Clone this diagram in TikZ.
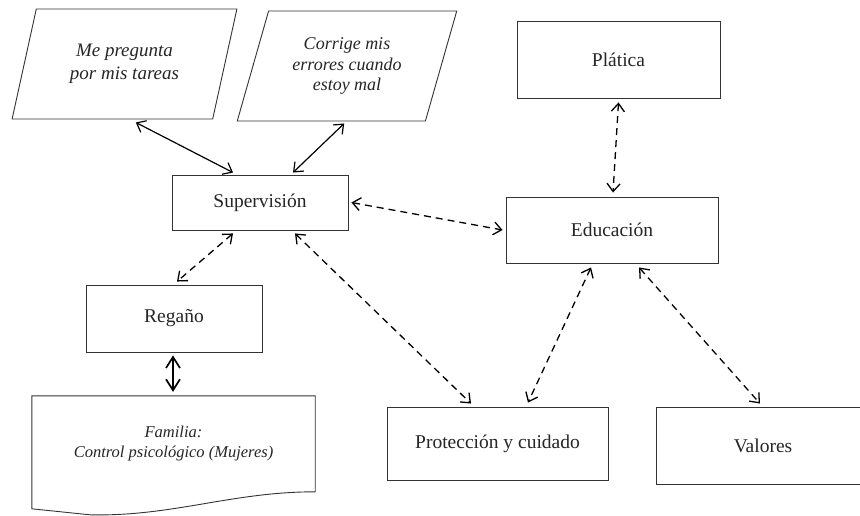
\documentclass[tikz,border=0pt]{standalone}
\usepackage{fontspec}
\IfFontExistsTF{LiberationSerif-Italic.ttf}{%
  \setmainfont{LiberationSerif}[Extension=.ttf,UprightFont=*-Regular,ItalicFont=*-Italic,BoldFont=*-Bold,BoldItalicFont=*-BoldItalic]}{%
  \setmainfont{Liberation Serif}}
\usetikzlibrary{arrows.meta,calc,shapes.geometric}
\begin{document}
\begin{tikzpicture}[x=1pt,y=-1pt,
  box/.style={draw=black!80,line width=0.9pt,rectangle,inner sep=0pt,text=black!85,font=\fontsize{19.5}{23}\selectfont},
  para/.style={draw=black!80,line width=0.9pt,trapezium,trapezium left angle=69,trapezium right angle=111,trapezium stretches=true,inner sep=0pt,align=center,text=black!85},
  sarrow/.style={line width=1.2pt,{Straight Barb[length=8pt,width=13pt]}-{Straight Barb[length=8pt,width=13pt]}},
  darrow/.style={line width=1.3pt,dash pattern=on 7pt off 5pt,{Straight Barb[length=8pt,width=13pt]}-{Straight Barb[length=8pt,width=13pt]}},
  thickarrow/.style={line width=1.7pt,{Straight Barb[length=11pt,width=14pt]}-{Straight Barb[length=11pt,width=14pt]}}
]
\useasboundingbox[fill=white] (0,0) rectangle (860,516);

\node[para,minimum width=225,minimum height=110,font=\fontsize{19}{22.5}\selectfont\itshape] (p1) at (124.5,64) {Me pregunta\\por mis tareas};
\node[para,minimum width=220,minimum height=110,font=\fontsize{18}{20.5}\selectfont\itshape] (p2) at (347,66) {Corrige mis\\errores cuando\\estoy mal};

\node[box,minimum width=176,minimum height=55] (sup) at (260,202.5) {Supervisión};
\node[box,minimum width=203,minimum height=77] (pla) at (618.5,59.5) {Plática};
\node[box,minimum width=212,minimum height=66] (edu) at (612,230) {Educación};
\node[box,minimum width=176,minimum height=67] (reg) at (174,318.5) {Regaño};
\node[box,minimum width=221,minimum height=73] (pro) at (497.5,443.5) {Protección y cuidado};
\node[box,minimum width=214,minimum height=77] (val) at (763,445.5) {Valores};

% document shape
\node[inner sep=0pt,minimum width=283,minimum height=96,align=center,text=black!85,font=\fontsize{16.5}{20}\selectfont\itshape] (fam) at (173.5,444) {Familia:\\Control psicológico (Mujeres)};
\draw[draw=black!80,line width=0.9pt] (fam.south east) -- (fam.north east) -- (fam.north west) -- ($(fam.north west)+(0,113)$) -- ($(fam.north west)+(58,119)$) .. controls ($(fam.north west)+(140,121)$) and ($(fam.north west)+(200,96)$) .. ($(fam.north east)+(0,96)$);

% connectors
\draw[sarrow] ($(p1.bottom side)+(23.5,3)$) -- ($(sup.north)+(-27,-2)$);
\draw[sarrow] ($(p2.bottom side)+(13,2)$) -- ($(sup.north)+(33,-2)$);
\draw[darrow] ($(sup.east)+(3,0)$) -- ($(edu.west)+(-3,0)$);
\draw[darrow] ($(pla.south)+(0,4)$) -- ($(edu.north)+(1,-4)$);
\draw[darrow] ($(sup.south)+(-27,3)$) -- ($(reg.north)+(3,-3)$);
\draw[darrow] ($(sup.south)+(35,3)$) -- ($(pro.north)+(-26.5,-3)$);
\draw[darrow] ($(edu.south)+(-21,4)$) -- ($(pro.north)+(30.5,-4)$);
\draw[darrow] ($(edu.south)+(27,4)$) -- ($(val.north)+(-3,-3)$);
\draw[thickarrow] ($(reg.south)+(-1,3)$) -- ($(fam.north)+(-0.5,-4)$);
\end{tikzpicture}
\end{document}
